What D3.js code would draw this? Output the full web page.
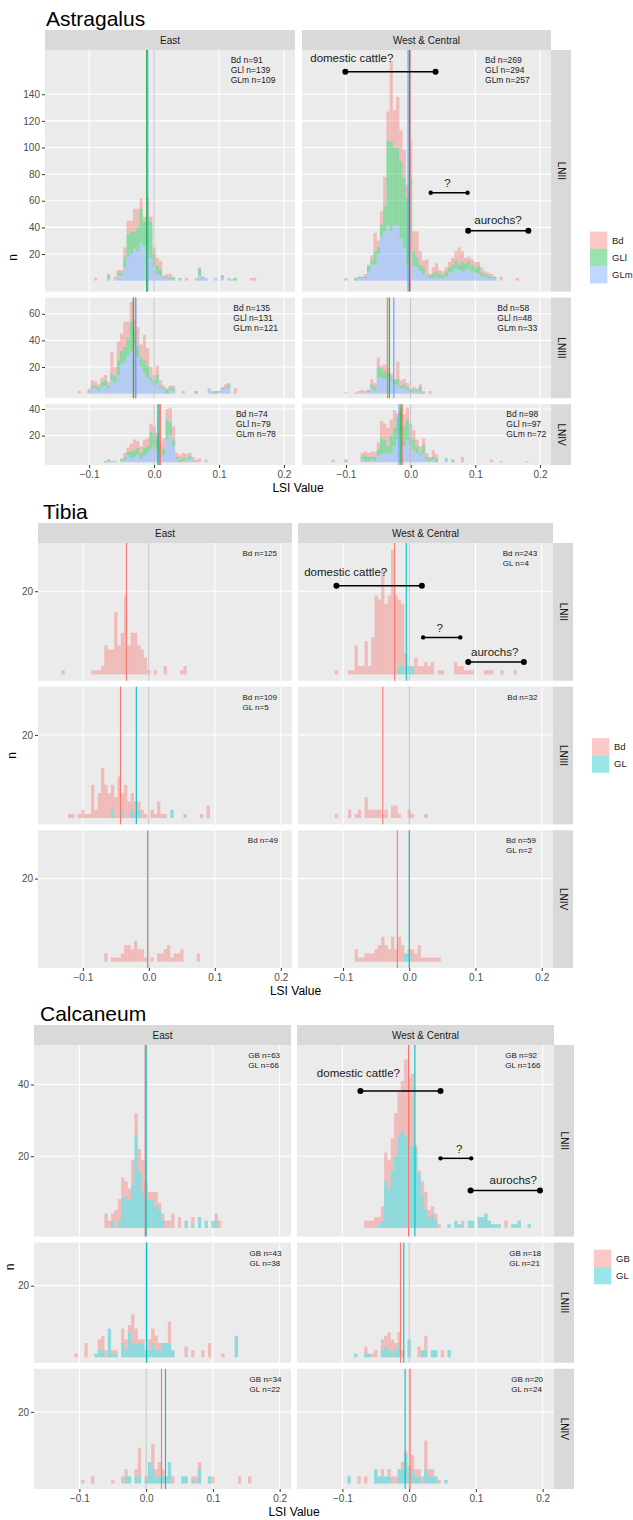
<!DOCTYPE html>
<html>
<head>
<meta charset="utf-8">
<title>LSI histograms</title>
<script src="https://d3js.org/d3.v7.min.js"></script>
<style>
  body { margin: 0; background: #fff; }
  text { font-family: "Liberation Sans", Arial, sans-serif; }
</style>
</head>
<body>
<div id="chart"></div>
<script>

// shared axis / facet setup
var binWidth = 0.005;
var xDomain = [-0.168, 0.217];
var xTicks = [-0.1, 0, 0.1, 0.2];
var colNames = ["East", "West & Central"];
var rowNames = ["LNII", "LNIII", "LNIV"];

// ---------------- Astragalus (stacked counts per 0.005 bin) ----------------
// *_from = index of the first bin, bin centre = index * binWidth
var astKeys = ["Bd", "GLl", "GLm"];
var astRowMax = [165, 68.7, 41.5];
var astYTicks = [[20, 40, 60, 80, 100, 120, 140], [20, 40, 60], [20, 40]];

var astE1_from = -18;
var astE1_Bd  = [2,0,0,0,1, 0,2,2,2,7, 10,8,17,14,8, 4,14,4,5,6, 7,1,2,3,1, 0,0,0,2,0, 0,1,1,0,0, 0,0,0,0,0, 0,0,0,0,0, 0,0,0,2,2];
var astE1_GLl = [0,0,0,0,2, 0,0,2,2,8, 17,17,13,18,26, 18,28,27,10,6, 4,1,1,1,1, 0,1,0,0,0, 0,0,5,1,0, 0,0,0,0,2, 0,0,0,2,0];
var astE1_GLm = [0,0,0,0,2, 0,1,4,4,10, 18,20,24,22,28, 26,20,17,10,5, 4,2,2,1,1, 0,1,0,0,0, 0,1,4,2,2, 0,0,2,0,2, 0,2,1,0,0];

var astW1_from = -20;
var astW1_Bd  = [2,0,0,0,0, 0,2,1,3,14, 5,10,22,22,60, 28,38,23,21,10, 28,15,20,10,5, 12,1,5,6,3, 3,3,4,5,7, 13,8,4,3,4, 4,3,4,2,2, 2,0,0,3,0, 0,0,0,2];
var astW1_GLl = [0,0,0,2,1, 1,1,5,4,10, 5,9,19,63,68, 58,59,58,52,50, 55,11,7,5,5, 1,2,3,4,3, 2,4,4,5,6, 4,7,5,6,5, 4,6,3,2,2, 1,1];
var astW1_GLm = [0,0,0,0,2, 2,2,6,12,12, 20,33,37,42,37, 42,41,32,25,12, 22,11,10,7,5, 3,2,2,3,2, 2,3,6,7,9, 8,7,8,9,7, 6,5,3,3,2, 2,2];

var astE2_from = -23;
var astE2_Bd  = [2,0,0,2,4, 3,2,3,4,3, 16,7,14,13,19, 12,15,8,14,10, 19,13,8,4,7, 4,2,1,1,2, 0,0,2,0,0, 0,0,0,0,0, 1,0,0,0,1, 2,1,0,4];
var astE2_GLl = [0,0,0,1,2, 2,3,4,4,2, 5,5,11,10,11, 13,22,10,9,7, 10,9,2,4,6, 2,1,3,2,2, 0,0,0,0,0, 0,2,0,0,0, 0,0,2,1,1, 1,2];
var astE2_GLm = [0,0,0,1,4, 4,2,5,6,4, 10,8,14,22,24, 29,32,37,27,20, 15,12,10,6,8, 4,3,0,3,2, 0,0,0,0,0, 0,0,0,0,0, 3,2,0,1,3, 4,5];

var astW2_from = -20;
var astW2_Bd  = [1,0,0,1,2, 3,1,1,4,3, 7,2,5,4,3, 1,13,4,4,3, 1,2,1,2,1, 0,2];
var astW2_GLl = [0,0,0,0,0, 0,0,1,3,3, 8,7,6,3,2, 3,5,2,3,2, 2,1,1,3,1];
var astW2_GLm = [0,0,0,0,0, 0,1,1,4,2, 12,12,11,12,10, 7,6,4,4,3, 1,2,2,2,0];

var astE3_from = -15;
var astE3_Bd  = [0,0,0,0,0, 1,3,3,6,8, 5,5,6,6,6, 5,3,3,8,8, 11,10,3,3,4, 3,2,2,1,3, 0,2];
var astE3_GLl = [1,1,0,0,0, 1,2,3,5,5, 5,4,6,5,13, 10,10,5,5,15, 10,5,2,2,2, 1,3];
var astE3_GLm = [0,1,1,1,0, 1,2,5,3,4, 6,3,5,7,10, 12,9,7,5,17, 20,12,2,0,1, 2,2,2,1];

var astW3_from = -24;
var astW3_Bd  = [2,0,0,0,0, 0,0,0,0,3, 3,3,4,4,5, 13,12,14,12,13, 3,4,9,9,10, 7,5,5,5,3, 1,5,3,0,0, 0,0,0,0,0, 4,0,0,0,0, 0,0,0,0,2, 0,0,1,0,0, 0,0,0,0,0, 1];
var astW3_GLl = [0,0,0,0,2, 0,0,0,0,1, 4,3,2,3,5, 12,10,6,13,14, 17,17,15,15,7, 8,5,2,7,2, 2,2,3,0,0, 1,0,2];
var astW3_GLm = [0,0,0,0,0, 0,0,0,0,3, 1,1,2,1,5, 6,7,6,7,12, 17,20,12,17,12, 9,7,5,6,2, 1,2,0,0,0, 2];

// mean lines [row][East, West]
var astLineBd  = [[-0.0105, -0.001], [-0.029, -0.036], [0.0097, -0.013]];
var astLineGLl = [[-0.0113, -0.002], [-0.032, -0.033], [0.006, -0.015]];
var astLineGLm = [[-0.0097, -0.004], [-0.028, -0.026], [0.008, -0.018]];
// sample sizes [row][East, West]
var astNBd  = [[91, 269], [135, 58], [74, 98]];
var astNGLl = [[139, 294], [131, 48], [79, 97]];
var astNGLm = [[109, 257], [121, 33], [78, 72]];
var astLabelX = [[0.118, 0.115], [0.122, 0.134], [0.126, 0.148]];
// [label, x from, x to, y, label x, label y]
var astNotes = [["domestic cattle?", -0.101, 0.0385, 157, -0.091, 167],
                ["?", 0.031, 0.088, 66, 0.057, 73],
                ["aurochs?", 0.089, 0.182, 37.4, 0.135, 45.6]];

// ---------------- Tibia ----------------
var tibKeys = ["Bd", "GL"];
var tibRowMax = [30.1, 30.1, 30.1];
var tibYTicks = [[20], [20], [20]];

var tibE1_from = -26;
var tibE1_Bd = [1,0,0,0,0, 0,0,0,0,1, 1,1,2,7,6, 6,15,7,10,19, 7,10,10,7,6, 4,1,0,1,0, 0,2,0,0,0, 0,1,2];
var tibE1_GL = [];

var tibW1_from = -22;
var tibW1_Bd = [1,0,0,0,1, 1,7,2,2,8, 2,9,19,18,25, 17,19,30,19,16, 15,5,0,0,4, 2,2,3,2,3, 0,1,1,0,0, 0,3,2,2,1, 1,1,0,0,0, 1,1,1,0,0, 1,0,0,0,1];
var tibW1_GL = [0,0,0,0,0, 0,0,0,0,0, 0,0,0,0,0, 0,0,0,0,2, 2,0,2,2];

var tibE2_from = -24;
var tibE2_Bd = [1,1,0,1,2, 1,1,8,2,6, 12,8,6,6,5, 10,4,8,4,4, 4,2,2,1,0, 2,1,4,1,1, 0,0,0,0,0, 1,0,0,0,0, 1,0,3];
var tibE2_GL = [0,0,0,0,0, 0,0,0,0,0, 0,0,0,2,0, 0,2,0,0,2, 0,2,0,0,0, 0,0,0,0,0, 0,2];

var tibW2_from = -22;
var tibW2_Bd = [1,0,0,0,2, 0,1,2,0,5, 2,2,2,2,1, 2,0,3,3,1, 0,0,2,1,0, 0,0,1];
var tibW2_GL = [];

var tibE3_from = -13;
var tibE3_Bd = [2,0,1,1,1, 2,4,4,3,5, 3,3,1,0,1, 0,2,2,3,4, 1,2,2,3,0, 0,0,0,2];
var tibE3_GL = [];

var tibW3_from = -16;
var tibW3_Bd = [3,1,1,2,2, 2,3,4,6,4, 3,6,3,6,4, 0,1,3,2,4, 1,1,1,1,1, 1];
var tibW3_GL = [0,0,0,0,0, 0,0,0,0,0, 0,0,0,0,0, 2,2];

var tibLineBd = [[-0.034, -0.022], [-0.043, -0.040], [-0.002, -0.018]];
var tibLineGL = [[null, -0.0045], [-0.019, null], [null, 0.0]];
var tibNBd = [[125, 243], [109, 32], [49, 59]];
var tibNGL = [[0, 4], [5, 0], [0, 2]];
var tibLabelX = [[0.142, 0.141], [0.142, 0.148], [0.150, 0.146]];
var tibNotes = [["domestic cattle?", -0.110, 0.019, 21.3, -0.096, 24.6],
                ["?", 0.021, 0.077, 8.9, 0.046, 11.2],
                ["aurochs?", 0.089, 0.173, 3.0, 0.129, 5.5]];

// ---------------- Calcaneum ----------------
var calKeys = ["GB", "GL"];
var calRowMax = [48.6, 30.5, 30.5];
var calYTicks = [[20, 40], [20], [20]];

var calE1_from = -12;
var calE1_GB = [4,2,2,5,6, 6,4,3,7,6, 6,9,5,2,2, 4,2,2,2,2, 4,0,3,0,0, 0,2,0,0,0, 0,0,0,2,2];
var calE1_GL = [0,0,2,0,2, 8,9,8,12,26, 16,10,8,8,8, 6,5,2,0,0, 0,0,0,0,2, 0,1,0,3,0, 2,0,2,2,0];

var calW1_from = -13;
var calW1_GB = [2,2,2,3,2, 4,8,8,9,12, 12,14,21,19,20, 1,1,4,5,2, 2,2,1,0,0, 0,0,0,0,1, 0,0,0,0,0, 0,0,0,0,0, 0,0,2,0,0];
var calW1_GL = [0,0,0,0,1, 2,13,11,16,20, 26,27,26,23,23, 22,15,9,5,3, 4,2,0,0,0, 1,0,2,1,1, 0,2,2,0,3, 3,4,2,1,1, 1,0,0,0,1, 1,2,0,0,1];

var calE2_from = -21;
var calE2_GB = [1,0,0,4,0, 0,0,3,4,2, 0,1,1,0,4, 3,2,8,4,1, 1,1,3,4,4, 2,0,0,6,0, 0,0,0,3,0, 2,0,0,2,0, 4,0,0,0,1];
var calE2_GL = [0,0,0,0,0, 0,1,2,2,0, 8,1,1,0,4, 2,7,4,4,4, 4,1,2,4,2, 2,4,4,4,2, 0,0,0,0,0, 0,0,0,0,0, 0,0,0,0,0, 0,0,0,6];

var calW2_from = -16;
var calW2_GB = [0,0,0,2,0, 1,2,0,3,3, 5,4,2,3,2, 0,0,0,0,3, 0,4,0,0,0, 0,2];
var calW2_GL = [1,0,0,1,1, 0,0,0,2,3, 2,1,2,4,0, 0,5,0,0,0, 2,2,0,2,2, 0,0,0,2];

var calE3_from = -19;
var calE3_GB = [1,0,0,2,0, 0,0,0,0,1, 0,0,2,2,0, 0,2,8,0,1, 0,7,2,4,2, 0,0,2,0,0, 0,0,0,1,2, 2,0,0,0,2, 0,0,0,0,0, 0,0,2,0,0, 2];
var calE3_GL = [0,0,0,0,0, 0,0,0,0,0, 0,0,0,2,2, 0,2,2,0,1, 6,4,2,2,2, 2,6,0,0,0, 2,2,0,1,0, 4,0,0,2];

var calW3_from = -18;
var calW3_GB = [0,0,0,2,0, 2,0,0,0,0, 2,0,2,2,2, 0,2,1,1,4, 2,2,2,8,2, 2,0,1];
var calW3_GL = [2,0,0,0,0, 0,0,0,4,2, 2,2,2,0,0, 4,4,8,4,4, 2,2,0,4,2, 2,2,0,0,1];

var calLineGB = [[-0.0015, -0.001], [0.001, -0.013], [0.023, 0.0015]];
var calLineGL = [[0.0, 0.0086], [0.0005, -0.008], [0.029, -0.006]];
var calNGB = [[63, 92], [43, 18], [34, 20]];
var calNGL = [[66, 166], [38, 21], [22, 24]];
var calLabelX = [[0.153, 0.144], [0.155, 0.150], [0.155, 0.153]];
var calNotes = [["domestic cattle?", -0.073, 0.047, 38.2, -0.076, 43.3],
                ["?", 0.047, 0.093, 19.4, 0.075, 22],
                ["aurochs?", 0.092, 0.196, 10.4, 0.156, 13.4]];

// ---------------------------------------------------------------
var palette = {Bd: "#F8766D", GB: "#F8766D", GLl: "#00BA38", GLm: "#619CFF", GL: "#00BFC4"};

var svg = d3.select("#chart").append("svg")
    .attr("width", 633)
    .attr("height", 1520);

function panel(from, series) { return {from: from, series: series}; }

var sections = [
  {
    title: "Astragalus", titleX: 46, titleY: 26,
    left: [45, 302], right: [295, 551], top: 30, bottom: 465,
    yTitleX: 13, legendX: 590, labelFont: "Liberation Sans", labelSize: 8.5,
    keys: astKeys, rowMax: astRowMax, yTicks: astYTicks,
    panels: [
      [panel(astE1_from, {Bd: astE1_Bd, GLl: astE1_GLl, GLm: astE1_GLm}),
       panel(astW1_from, {Bd: astW1_Bd, GLl: astW1_GLl, GLm: astW1_GLm})],
      [panel(astE2_from, {Bd: astE2_Bd, GLl: astE2_GLl, GLm: astE2_GLm}),
       panel(astW2_from, {Bd: astW2_Bd, GLl: astW2_GLl, GLm: astW2_GLm})],
      [panel(astE3_from, {Bd: astE3_Bd, GLl: astE3_GLl, GLm: astE3_GLm}),
       panel(astW3_from, {Bd: astW3_Bd, GLl: astW3_GLl, GLm: astW3_GLm})]
    ],
    lines: {Bd: astLineBd, GLl: astLineGLl, GLm: astLineGLm},
    counts: {Bd: astNBd, GLl: astNGLl, GLm: astNGLm},
    labelX: astLabelX, notes: astNotes
  },
  {
    title: "Tibia", titleX: 43, titleY: 519,
    left: [38, 298], right: [292, 553], top: 523, bottom: 968,
    yTitleX: 12, legendX: 592, labelFont: "DejaVu Sans", labelSize: 8,
    keys: tibKeys, rowMax: tibRowMax, yTicks: tibYTicks,
    panels: [
      [panel(tibE1_from, {Bd: tibE1_Bd, GL: tibE1_GL}), panel(tibW1_from, {Bd: tibW1_Bd, GL: tibW1_GL})],
      [panel(tibE2_from, {Bd: tibE2_Bd, GL: tibE2_GL}), panel(tibW2_from, {Bd: tibW2_Bd, GL: tibW2_GL})],
      [panel(tibE3_from, {Bd: tibE3_Bd, GL: tibE3_GL}), panel(tibW3_from, {Bd: tibW3_Bd, GL: tibW3_GL})]
    ],
    lines: {Bd: tibLineBd, GL: tibLineGL},
    counts: {Bd: tibNBd, GL: tibNGL},
    labelX: tibLabelX, notes: tibNotes
  },
  {
    title: "Calcaneum", titleX: 40, titleY: 1021,
    left: [34, 297], right: [291, 554], top: 1025, bottom: 1489,
    yTitleX: 10, legendX: 594, labelFont: "DejaVu Sans", labelSize: 8,
    keys: calKeys, rowMax: calRowMax, yTicks: calYTicks,
    panels: [
      [panel(calE1_from, {GB: calE1_GB, GL: calE1_GL}), panel(calW1_from, {GB: calW1_GB, GL: calW1_GL})],
      [panel(calE2_from, {GB: calE2_GB, GL: calE2_GL}), panel(calW2_from, {GB: calW2_GB, GL: calW2_GL})],
      [panel(calE3_from, {GB: calE3_GB, GL: calE3_GL}), panel(calW3_from, {GB: calW3_GB, GL: calW3_GL})]
    ],
    lines: {GB: calLineGB, GL: calLineGL},
    counts: {GB: calNGB, GL: calNGL},
    labelX: calLabelX, notes: calNotes
  }
];

function styleAxis(a) {
  a.select(".domain").remove();
  a.selectAll("line").attr("stroke", "#333333");
  a.selectAll("text")
    .attr("fill", "#4D4D4D")
    .attr("font-size", 10)
    .attr("font-family", "Liberation Sans");
}

function drawNotes(g, notes, x, y) {
  notes.forEach(function(nt) {
    var r = nt[0] === "?" ? 2.2 : 3;
    g.append("line")
      .attr("x1", x(nt[1])).attr("x2", x(nt[2]))
      .attr("y1", y(nt[3])).attr("y2", y(nt[3]))
      .attr("stroke", "#000").attr("stroke-width", 1.5);
    g.selectAll(null).data([nt[1], nt[2]]).join("circle")
      .attr("cx", function(d) { return x(d); })
      .attr("cy", y(nt[3]))
      .attr("r", r)
      .attr("fill", "#000");
    g.append("text")
      .attr("x", x(nt[4])).attr("y", y(nt[5]))
      .attr("dy", "0.35em")
      .attr("text-anchor", "middle")
      .attr("font-family", "DejaVu Sans")
      .attr("font-size", 11.5)
      .attr("fill", "#1A1A1A")
      .text(nt[0]);
  });
}

function drawSection(s) {
  var stripH = 20, gap = 6;
  var pTop = s.top + stripH;
  var spans = s.rowMax.map(function(m) { return m * 1.1; });
  var unit = (s.bottom - pTop - gap * (spans.length - 1)) / d3.sum(spans);
  var rowsPos = [], cur = pTop;
  spans.forEach(function(sp) {
    rowsPos.push({top: cur, h: sp * unit});
    cur += sp * unit + gap;
  });

  var g = svg.append("g");

  g.append("text")
    .attr("x", s.titleX).attr("y", s.titleY)
    .attr("font-family", "DejaVu Sans")
    .attr("font-size", 21)
    .attr("fill", "#000")
    .text(s.title);

  // top strips
  colNames.forEach(function(name, c) {
    g.append("rect")
      .attr("x", s.left[c]).attr("y", s.top)
      .attr("width", s.right[c] - s.left[c]).attr("height", stripH)
      .attr("fill", "#D9D9D9");
    g.append("text")
      .attr("x", (s.left[c] + s.right[c]) / 2).attr("y", s.top + stripH / 2)
      .attr("dy", "0.35em").attr("text-anchor", "middle")
      .attr("font-size", 10).attr("fill", "#1A1A1A")
      .text(name);
  });

  rowsPos.forEach(function(rp, r) {
    var m = s.rowMax[r];
    var y = d3.scaleLinear().domain([-0.05 * m, 1.05 * m]).range([rp.top + rp.h, rp.top]);
    var yTicks = s.yTicks[r];

    // right strip
    var sx = s.right[1];
    g.append("rect")
      .attr("x", sx).attr("y", rp.top)
      .attr("width", 20).attr("height", rp.h)
      .attr("fill", "#D9D9D9");
    g.append("text")
      .attr("transform", "translate(" + (sx + 10) + "," + (rp.top + rp.h / 2) + ") rotate(90)")
      .attr("text-anchor", "middle").attr("dy", "0.35em")
      .attr("font-size", 10).attr("fill", "#1A1A1A")
      .text(rowNames[r]);

    colNames.forEach(function(cn, c) {
      var x = d3.scaleLinear().domain(xDomain).range([s.left[c], s.right[c]]);
      var p = s.panels[r][c];
      var pg = g.append("g");

      pg.append("rect")
        .attr("x", s.left[c]).attr("y", rp.top)
        .attr("width", s.right[c] - s.left[c]).attr("height", rp.h)
        .attr("fill", "#EBEBEB");

      pg.selectAll(null).data(yTicks).join("line")
        .attr("x1", s.left[c]).attr("x2", s.right[c])
        .attr("y1", function(d) { return y(d); }).attr("y2", function(d) { return y(d); })
        .attr("stroke", "#fff").attr("stroke-width", 1.1);
      pg.selectAll(null).data(xTicks).join("line")
        .attr("x1", function(d) { return x(d); }).attr("x2", function(d) { return x(d); })
        .attr("y1", rp.top).attr("y2", rp.top + rp.h)
        .attr("stroke", "#fff").attr("stroke-width", 1.1);

      // stacked bars (first key ends up on top)
      var bars = [];
      var nb = d3.max(s.keys, function(k) { return p.series[k].length; });
      for (var i = 0; i < nb; i++) {
        var base = 0, centre = (p.from + i) * binWidth;
        s.keys.slice().reverse().forEach(function(k) {
          var v = p.series[k][i] || 0;
          if (v > 0) {
            bars.push({k: k, x0: centre - binWidth / 2, x1: centre + binWidth / 2, y0: base, y1: base + v});
            base += v;
          }
        });
      }
      pg.selectAll("rect.bar").data(bars).join("rect")
        .attr("class", "bar")
        .attr("x", function(d) { return x(d.x0); })
        .attr("width", function(d) { return x(d.x1) - x(d.x0); })
        .attr("y", function(d) { return y(d.y1); })
        .attr("height", function(d) { return y(d.y0) - y(d.y1); })
        .attr("fill", function(d) { return palette[d.k]; })
        .attr("fill-opacity", 0.4);

      pg.append("line")
        .attr("x1", x(0)).attr("x2", x(0))
        .attr("y1", rp.top).attr("y2", rp.top + rp.h)
        .attr("stroke", "#BDBDBD").attr("stroke-width", 1);

      s.keys.forEach(function(k) {
        var v = s.lines[k][r][c];
        if (v === null) return;
        pg.append("line")
          .attr("x1", x(v)).attr("x2", x(v))
          .attr("y1", rp.top).attr("y2", rp.top + rp.h)
          .attr("stroke", palette[k]).attr("stroke-width", 1.1);
      });

      var lbl = s.keys
        .filter(function(k) { return s.counts[k][r][c] > 0; })
        .map(function(k) { return k + " n=" + s.counts[k][r][c]; });
      var lx = x(s.labelX[r][c]);
      pg.append("text")
        .attr("x", lx).attr("y", rp.top + 13)
        .attr("font-family", s.labelFont).attr("font-size", s.labelSize)
        .attr("fill", "#1A1A1A")
        .selectAll("tspan").data(lbl).join("tspan")
        .attr("x", lx)
        .attr("dy", function(d, i) { return i ? 10 : 0; })
        .text(function(d) { return d; });

      if (r === 0 && c === 1) drawNotes(pg, s.notes, x, y);

      if (c === 0) {
        var ay = pg.append("g")
          .attr("transform", "translate(" + s.left[c] + ",0)")
          .call(d3.axisLeft(y).tickValues(yTicks).tickSize(3).tickPadding(2).tickFormat(d3.format("d")));
        styleAxis(ay);
      }
      if (r === rowsPos.length - 1) {
        var axb = pg.append("g")
          .attr("transform", "translate(0," + (rp.top + rp.h) + ")")
          .call(d3.axisBottom(x).tickValues(xTicks).tickSize(3).tickPadding(3).tickFormat(d3.format(".1f")));
        styleAxis(axb);
      }
    });
  });

  // axis titles
  g.append("text")
    .attr("x", (s.left[0] + s.right[1]) / 2).attr("y", s.bottom + 27)
    .attr("text-anchor", "middle")
    .attr("font-size", 12).attr("fill", "#000")
    .text("LSI Value");
  g.append("text")
    .attr("transform", "translate(" + s.yTitleX + "," + ((pTop + s.bottom) / 2) + ") rotate(-90)")
    .attr("text-anchor", "middle").attr("dy", "0.35em")
    .attr("font-size", 12).attr("fill", "#000")
    .text("n");

  // legend
  var ks = 17.3;
  var ly = (pTop + s.bottom) / 2 - s.keys.length * ks / 2;
  s.keys.forEach(function(k, i) {
    g.append("rect")
      .attr("x", s.legendX).attr("y", ly + i * ks)
      .attr("width", ks).attr("height", ks)
      .attr("fill", palette[k]).attr("fill-opacity", 0.4);
    g.append("text")
      .attr("x", s.legendX + 22).attr("y", ly + i * ks + ks / 2)
      .attr("dy", "0.35em")
      .attr("font-size", 9.5).attr("fill", "#1A1A1A")
      .text(k);
  });
}

sections.forEach(drawSection);

</script>
</body>
</html>
